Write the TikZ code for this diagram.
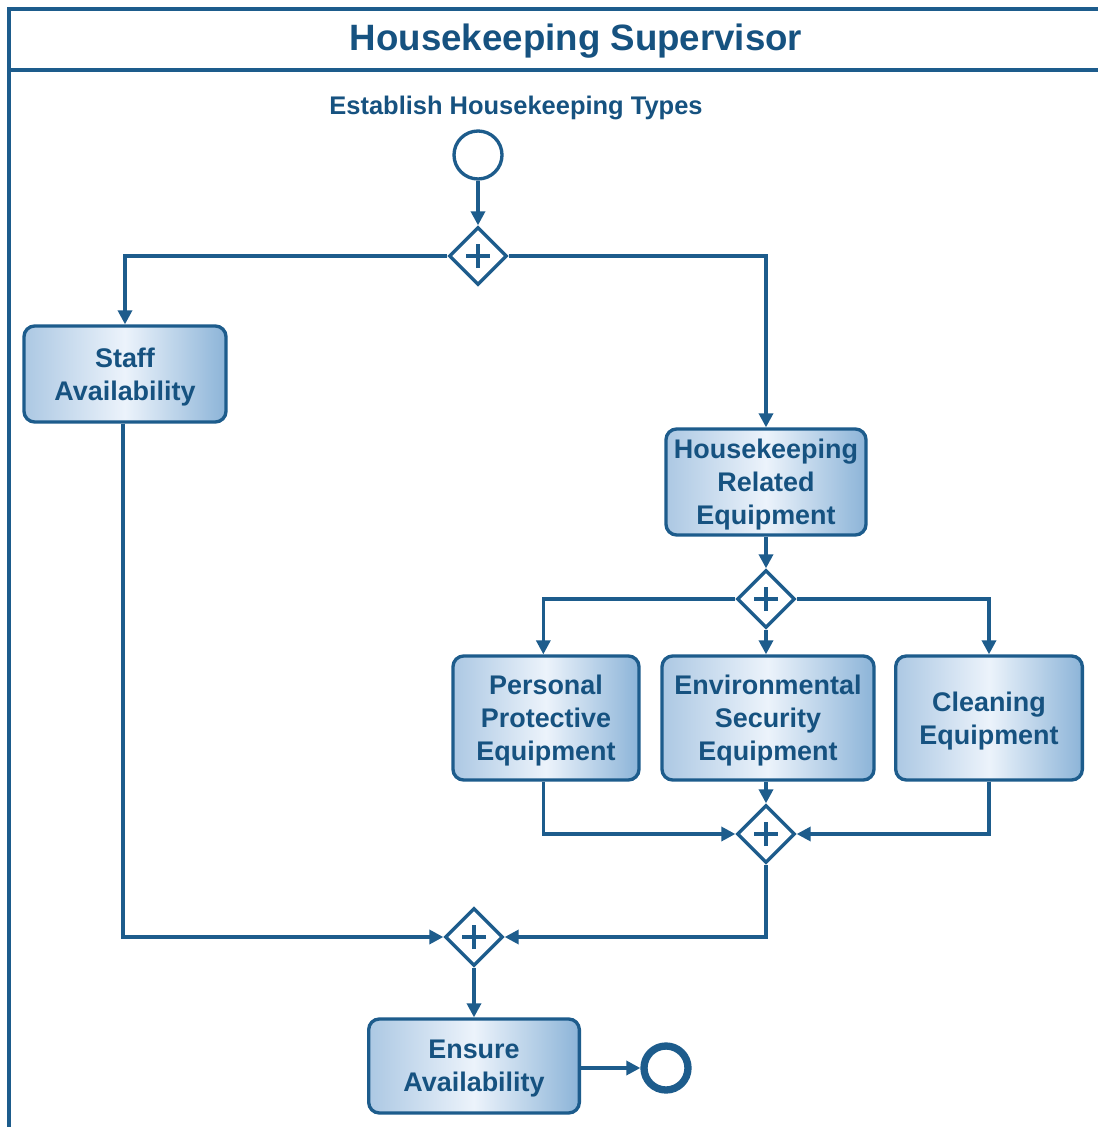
\documentclass[tikz,border=0pt]{standalone}
\usepackage{fontspec}
\setmainfont{Liberation Sans}
\usetikzlibrary{arrows.meta,shapes.geometric}
\definecolor{ink}{RGB}{29,92,140}
\definecolor{txt}{RGB}{22,82,128}
\definecolor{edgeL}{RGB}{172,200,227}
\definecolor{edgeR}{RGB}{140,180,216}
\definecolor{mid}{RGB}{236,243,251}
\begin{document}
\begin{tikzpicture}[x=0.75pt,y=-0.75pt,
  flow/.style={draw=ink,line width=2.5pt,-{Triangle[length=10.5pt,width=10.5pt]}},
  task/.style={draw=ink,line width=2.5pt,rounded corners=8pt,
    left color=edgeL,right color=edgeR,middle color=mid,
    align=center,text=txt,font=\fontsize{20.2}{24.75}\selectfont\bfseries,
    inner sep=0pt},
  tasktext/.style={text=txt,align=center,font=\fontsize{20.2}{24.75}\selectfont\bfseries},
  gateway/.style={diamond,draw=ink,line width=2.5pt,fill=white,
    minimum width=43.5pt,minimum height=43.5pt,inner sep=0pt,
    path picture={\draw[ink,line width=2.5pt]
      ([xshift=-9pt]path picture bounding box.center) -- ([xshift=9pt]path picture bounding box.center)
      ([yshift=-9pt]path picture bounding box.center) -- ([yshift=9pt]path picture bounding box.center);}},
  event/.style={circle,draw=ink,fill=white,minimum size=36pt,inner sep=0pt}]
\useasboundingbox (0,0) rectangle (1098,1127);
\fill[white] (0,0) rectangle (1098,1127);

% pool frame with header band
\draw[ink,line width=2.5pt] (9,1127) -- (9,9) -- (1098,9);
\draw[ink,line width=2.5pt] (9,70) -- (1098,70);
\node[text=txt,font=\fontsize{27.5}{32}\selectfont\bfseries] (title) at (576,41) {Housekeeping Supervisor};

% start event and its label
\node[text=txt,font=\fontsize{19.1}{22}\selectfont\bfseries] (lbl) at (516,108) {Establish Housekeeping Types};
\node[event,line width=2.5pt] (start) at (478,155) {};

% gateways
\node[gateway] (g1) at (478,256) {};
\node[gateway] (g2) at (766,599) {};
\node[gateway] (g3) at (766,834) {};
\node[gateway] (g4) at (474,937) {};

% tasks (text sits slightly below the box centre)
\node[task,minimum width=151.5pt,minimum height=72pt,text depth=-1.5pt] (staff) at (125,374) {Staff\\Availability};
\node[task,minimum width=150pt,minimum height=79.5pt,text depth=-1.5pt] (hre) at (766,482) {Housekeeping\\Related\\Equipment};
\node[task,minimum width=139.5pt,minimum height=93pt,text depth=-1.5pt] (ppe) at (546,718) {Personal\\Protective\\Equipment};
\node[task,minimum width=159pt,minimum height=93pt,text depth=-1.5pt] (ese) at (768,718) {Environmental\\Security\\Equipment};
\node[task,minimum width=140pt,minimum height=93pt,text depth=-1.5pt] (ce) at (989,718) {Cleaning\\Equipment};
\node[task,minimum width=158pt,minimum height=70.5pt,text depth=-1.5pt] (ensure) at (474,1066) {Ensure\\Availability};

% end event
\node[event,line width=5.5pt,minimum size=33pt] (stop) at (666,1068) {};

% sequence flows
\draw[flow] (start) -- (g1);
\draw[flow] (g1.west) -| (staff.north);
\draw[flow] (g1.east) -| (hre.north);
\draw[flow] (hre) -- (g2);
\draw[flow] (g2.west) -| ([xshift=-2pt]ppe.north);
\draw[flow] (g2.south) -- (g2.south |- ese.north);
\draw[flow] (g2.east) -| (ce.north);
\draw[flow] ([xshift=-2pt]ppe.south) |- (g3.west);
\draw[flow] (g3.north |- ese.south) -- (g3.north);
\draw[flow] (ce.south) |- (g3.east);
\draw[flow] ([xshift=-1.5pt]staff.south) |- (g4.west);
\draw[flow] (g3.south) |- (g4.east);
\draw[flow] (g4) -- (ensure);
\draw[flow] (ensure.east |- stop) -- (stop.west);
\end{tikzpicture}
\end{document}
